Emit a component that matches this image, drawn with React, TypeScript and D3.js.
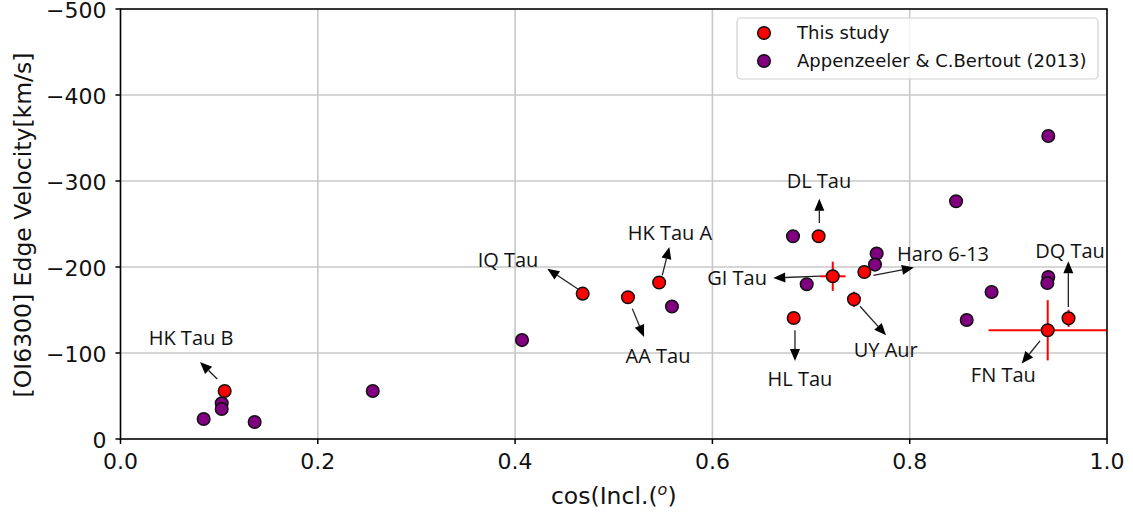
import React from 'react';
import * as d3 from 'd3';

const W = 1133;
const H = 516;
const PLOT = { left: 120.5, right: 1107, top: 9, bottom: 439 };

// This study
const studyCos = [0.1056, 0.4685, 0.5144, 0.546, 0.7077, 0.722, 0.754, 0.7435, 0.6824, 0.961, 0.9399];
const studyVel = [-55.8, -169, -164.8, -182, -235.7, -189.2, -194.2, -162.4, -140.7, -140.3, -126.4];
const studyCosErr = [0, 0.005, 0, 0, 0, 0.013, 0, 0, 0, 0, 0.06];
const studyVelErr = [0, 3, 7, 0, 7, 17, 0, 9, 0, 10, 35];

// Appenzeeler & C.Bertout (2013)
const litCos = [0.0843, 0.1026, 0.1026, 0.136, 0.2557, 0.407, 0.559, 0.6817, 0.7665, 0.7648, 0.6956, 0.9405, 0.847, 0.9405, 0.9395, 0.883, 0.8578];
const litVel = [-23.3, -41.5, -34.9, -19.8, -55.8, -115, -154, -235.7, -215.6, -202.8, -180, -352.3, -276.4, -188.4, -181.4, -171, -138.4];

// Annotations
const annNames = ['HK Tau B', 'IQ Tau', 'HK Tau A', 'AA Tau', 'DL Tau', 'GI Tau', 'Haro 6-13', 'UY Aur', 'HL Tau', 'DQ Tau', 'FN Tau'];
const annTextCos = [0.0715, 0.3928, 0.557, 0.5449, 0.708, 0.625, 0.8338, 0.7757, 0.6888, 0.9625, 0.8949];
const annTextVel = [-117.1, -207.8, -239.2, -96.2, -300.8, -187.2, -215.9, -104.3, -70.2, -218.6, -74.1];
const annTailCos = [0.0981, 0.464, 0.5492, 0.5188, 0.7084, 0.7091, 0.7631, 0.7496, 0.6837, 0.9608, 0.9321];
const annTailVel = [-69.8, -174.1, -190.3, -151.6, -251.2, -189.5, -190.3, -154.3, -126.4, -153.5, -114];
const annHeadCos = [0.0806, 0.4326, 0.5563, 0.5307, 0.7084, 0.6617, 0.8043, 0.776, 0.6837, 0.9608, 0.9135];
const annHeadVel = [-89.5, -198.1, -223.3, -118.6, -279.5, -187.2, -199.3, -120.6, -90.7, -206.6, -87.7];

const xTicks = [0, 0.2, 0.4, 0.6, 0.8, 1.0];
const yTicks = [0, -100, -200, -300, -400, -500];
const legendLabels = ['This study', 'Appenzeeler & C.Bertout (2013)'];

const TICK_FONT = 'DejaVu Sans, sans-serif';
const ANN_FONT = '"Open Sans", sans-serif';

export default function App() {
  const x = d3.scaleLinear().domain([0, 1]).range([PLOT.left, PLOT.right]);
  const y = d3.scaleLinear().domain([0, -500]).range([PLOT.bottom, PLOT.top]);

  const fmtX = d3.format('.1f');
  const fmtY = (v: number) => (v < 0 ? '\u2212' + Math.abs(v) : String(v));

  const arrowHead = (x1: number, y1: number, x2: number, y2: number) => {
    const dx = x2 - x1, dy = y2 - y1;
    const len = Math.hypot(dx, dy);
    const ux = dx / len, uy = dy / len;
    const hl = 12, hw = 5;
    const bx = x2 - ux * hl, by = y2 - uy * hl;
    const px = -uy * hw, py = ux * hw;
    return { line: [bx, by], poly: `${x2},${y2} ${bx + px},${by + py} ${bx - px},${by - py}` };
  };

  return (
    <svg width={W} height={H} style={{ position: 'absolute', left: 0, top: 0, background: '#fff' }}>
      <rect x={0} y={0} width={W} height={H} fill="#fff" />
      {/* grid */}
      <g stroke="#c8c8c8" strokeWidth={1.6}>
        {xTicks.map((t) => (
          <line key={'gx' + t} x1={x(t)} x2={x(t)} y1={PLOT.top} y2={PLOT.bottom} />
        ))}
        {yTicks.map((t) => (
          <line key={'gy' + t} x1={PLOT.left} x2={PLOT.right} y1={y(t)} y2={y(t)} />
        ))}
      </g>

      {/* arrows */}
      <g>
        {annNames.map((n, i) => {
          const x1 = x(annTailCos[i]), y1 = y(annTailVel[i]);
          const x2 = x(annHeadCos[i]), y2 = y(annHeadVel[i]);
          const a = arrowHead(x1, y1, x2, y2);
          return (
            <g key={'ar' + n}>
              <line x1={x1} y1={y1} x2={a.line[0]} y2={a.line[1]} stroke="#222" strokeWidth={1.3} />
              <polygon points={a.poly} fill="#000" />
            </g>
          );
        })}
      </g>

      {/* annotation text */}
      <g fontFamily={ANN_FONT} fontSize={20} fill="#111" textAnchor="middle">
        {annNames.map((n, i) => (
          <text key={'t' + n} x={x(annTextCos[i])} y={y(annTextVel[i])} dy="0.36em">{n}</text>
        ))}
      </g>

      {/* error bars */}
      <g stroke="#ff0000" strokeWidth={2}>
        {studyCos.map((c, i) => (
          <g key={'e' + i}>
            {studyCosErr[i] > 0 && (
              <line x1={x(c - studyCosErr[i])} x2={x(Math.min(1, c + studyCosErr[i]))} y1={y(studyVel[i])} y2={y(studyVel[i])} />
            )}
            {studyVelErr[i] > 0 && (
              <line x1={x(c)} x2={x(c)} y1={y(studyVel[i] - studyVelErr[i])} y2={y(studyVel[i] + studyVelErr[i])} />
            )}
          </g>
        ))}
      </g>

      {/* literature points */}
      <g fill="#800080" stroke="#111" strokeWidth={1.5}>
        {litCos.map((c, i) => (
          <circle key={'l' + i} cx={x(c)} cy={y(litVel[i])} r={6.3} />
        ))}
      </g>

      {/* study points */}
      <g fill="#ff0000" stroke="#111" strokeWidth={1.5}>
        {studyCos.map((c, i) => (
          <circle key={'s' + i} cx={x(c)} cy={y(studyVel[i])} r={6.3} />
        ))}
      </g>

      {/* axes frame */}
      <rect x={PLOT.left} y={PLOT.top} width={PLOT.right - PLOT.left} height={PLOT.bottom - PLOT.top} fill="none" stroke="#000" strokeWidth={1.5} />

      {/* ticks */}
      <g fontFamily={TICK_FONT} fontSize={22} fill="#111">
        {xTicks.map((t) => (
          <g key={'xt' + t}>
            <line x1={x(t)} x2={x(t)} y1={PLOT.bottom} y2={PLOT.bottom + 5} stroke="#000" strokeWidth={1.5} />
            <text x={x(t)} y={469} textAnchor="middle">{fmtX(t)}</text>
          </g>
        ))}
        {yTicks.map((t) => (
          <g key={'yt' + t}>
            <line x1={PLOT.left - 5} x2={PLOT.left} y1={y(t)} y2={y(t)} stroke="#000" strokeWidth={1.5} />
            <text x={PLOT.left - 14} y={y(t) + 9} textAnchor="end">{fmtY(t)}</text>
          </g>
        ))}
      </g>

      {/* axis labels */}
      <text x={(PLOT.left + PLOT.right) / 2} y={504} textAnchor="middle" fontFamily={TICK_FONT} fontSize={23.5} fill="#111">
        cos(Incl.(<tspan fontStyle="italic" fontSize={16} dy={-9}>o</tspan><tspan dy={9}>)</tspan>
      </text>
      <text transform={`translate(23,${(PLOT.top + PLOT.bottom) / 2 + 1}) rotate(-90)`} textAnchor="middle" dy="0.36em" fontFamily={TICK_FONT} fontSize={23.5} fill="#111">
        [OI6300] Edge Velocity[km/s]
      </text>

      {/* legend */}
      <g>
        <rect x={737} y={18} width={361} height={61} rx={4} fill="#fff" fillOpacity={0.8} stroke="#d0d0d0" strokeWidth={1.2} />
        <g stroke="#ff0000" strokeWidth={2}>
          <line x1={757} x2={771} y1={33} y2={33} />
          <line x1={764} x2={764} y1={26} y2={40} />
        </g>
        <circle cx={764} cy={33} r={6.3} fill="#ff0000" stroke="#111" strokeWidth={1.5} />
        <circle cx={764} cy={61} r={6.3} fill="#800080" stroke="#111" strokeWidth={1.5} />
        <g fontFamily={TICK_FONT} fontSize={18} fill="#111">
          {legendLabels.map((l, i) => (
            <text key={l} x={797} y={33 + i * 28} dy="0.36em">{l}</text>
          ))}
        </g>
      </g>
    </svg>
  );
}
